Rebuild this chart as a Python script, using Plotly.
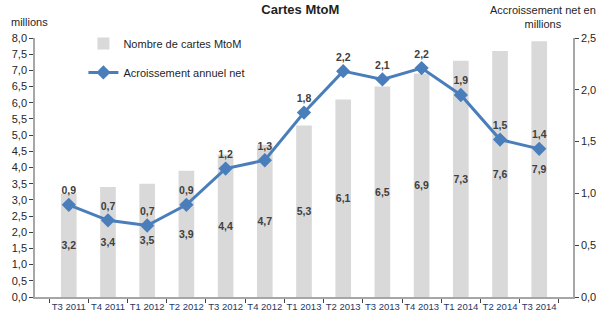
import plotly.graph_objects as go

categories = ["T3 2011", "T4 2011", "T1 2012", "T2 2012", "T3 2012", "T4 2012",
              "T1 2013", "T2 2013", "T3 2013", "T4 2013", "T1 2014", "T2 2014", "T3 2014"]
cartes = [3.2, 3.4, 3.5, 3.9, 4.4, 4.7, 5.3, 6.1, 6.5, 6.9, 7.3, 7.6, 7.9]
accroissement = [0.89, 0.74, 0.69, 0.89, 1.24, 1.32, 1.78, 2.18, 2.10, 2.21, 1.95, 1.52, 1.43]
acc_labels = ["0,9", "0,7", "0,7", "0,9", "1,2", "1,3", "1,8", "2,2", "2,1", "2,2", "1,9", "1,5", "1,4"]
bar_labels = [f"{v:.1f}".replace(".", ",") for v in cartes]

FONT = "Liberation Sans, Arial, sans-serif"

fig = go.Figure()
fig.add_trace(go.Bar(
    x=categories, y=cartes, name="Nombre de cartes MtoM",
    marker=dict(color="#d9d9d9", line=dict(width=0)),
    width=0.4,
    text=bar_labels, textposition="inside", insidetextanchor="middle",
    constraintext="none",
    textfont=dict(family=FONT, size=10.5, color="#404040", weight="bold"),
    textangle=0, legendgroup="a",
))
fig.add_trace(go.Scatter(
    x=categories, y=accroissement, name="Acroissement annuel net",
    yaxis="y2", mode="lines+markers+text",
    line=dict(color="#4a7ebb", width=3),
    marker=dict(symbol="diamond", size=11, color="#4a7ebb"),
    text=acc_labels, textposition="top center",
    textfont=dict(family=FONT, size=10.5, color="#404040", weight="bold"),
    legendgroup="b", cliponaxis=False,
))

fig.update_layout(
    width=613, height=324,
    margin=dict(l=29, r=40, t=38, b=27),
    paper_bgcolor="white", plot_bgcolor="white",
    separators=", ",
    font=dict(family=FONT, size=11, color="#262626"),
    title=dict(text="<b>Cartes MtoM</b>", x=0.49, xanchor="center", y=0.985, yanchor="top",
               font=dict(size=13, color="#1f1f1f")),
    showlegend=True,
    legend=dict(x=0.09, y=1.035, xanchor="left", yanchor="top",
                bgcolor="rgba(0,0,0,0)", tracegroupgap=10,
                font=dict(size=11, color="#1f1f1f"), traceorder="grouped"),
    bargap=0.6,
    xaxis=dict(
        showline=True, linecolor="#a6a6a6", linewidth=1.5,
        ticks="outside", tickson="boundaries", ticklen=4, tickcolor="#404040",
        tickangle=0,
        tickfont=dict(size=9.5, color="#1f3864"),
        showgrid=False,
    ),
    yaxis=dict(
        range=[0, 8], dtick=0.5, tickformat=".1f",
        showline=True, linecolor="#a6a6a6", linewidth=1.5,
        ticks="outside", ticklen=4, tickcolor="#404040",
        showgrid=False, zeroline=False,
        tickfont=dict(size=11, color="#262626"),
    ),
    yaxis2=dict(
        range=[0, 2.5], dtick=0.5, tickformat=".1f",
        overlaying="y", side="right",
        showline=True, linecolor="#a6a6a6", linewidth=1.5,
        ticks="outside", ticklen=4, tickcolor="#404040",
        showgrid=False, zeroline=False,
        tickfont=dict(size=11, color="#262626"),
    ),
    annotations=[
        dict(text="millions", xref="paper", yref="paper", x=-0.048, y=1.062,
             xanchor="left", yanchor="middle", showarrow=False,
             font=dict(size=11, color="#262626")),
        dict(text="Accroissement net en<br>millions", xref="paper", yref="paper",
             x=0.945, y=1.08, xanchor="center", yanchor="middle", showarrow=False,
             font=dict(size=11, color="#262626")),
    ],
)

fig.write_html("out.html")
